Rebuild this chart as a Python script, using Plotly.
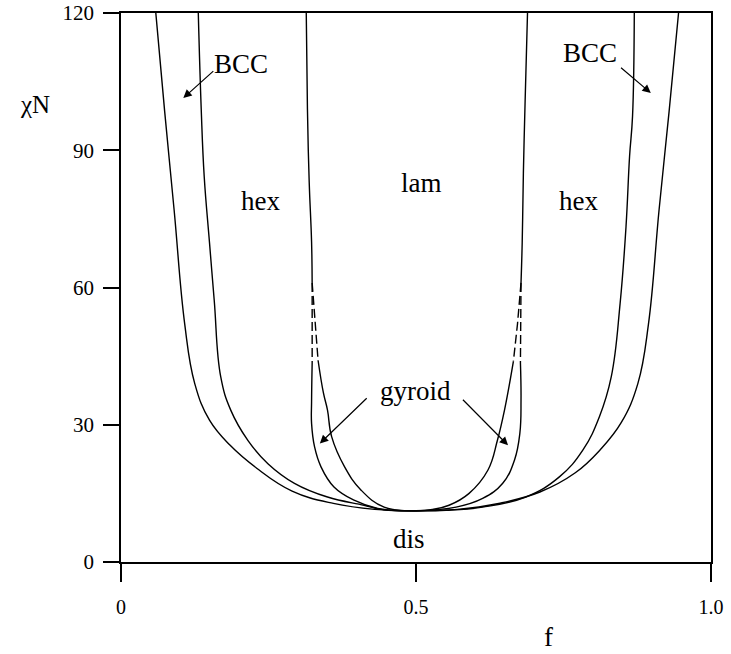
import plotly.graph_objects as go

# ---- phase boundaries, f < 0.5 side ----
# disorder / BCC (order-disorder transition)
dis_bcc_l_f = [0.059, 0.074, 0.090, 0.108, 0.125, 0.150, 0.185, 0.230, 0.290, 0.360, 0.430, 0.500]
dis_bcc_l_chi = [120, 98.5, 77, 52, 39, 31, 25.5, 20.5, 15.5, 12.8, 11.5, 11.2]
# BCC / hex
bcc_hex_l_f = [0.131, 0.136, 0.141, 0.150, 0.158, 0.169, 0.186, 0.215, 0.249, 0.294, 0.350, 0.412, 0.446, 0.500]
bcc_hex_l_chi = [120, 98.9, 84.3, 69.8, 57.2, 40.5, 33.2, 26.6, 21.5, 17.2, 14.2, 12.4, 11.4, 11.2]
# hex / lam (strong segregation part)
hex_lam_l_f = [0.314, 0.316, 0.319, 0.323, 0.324]
hex_lam_l_chi = [120, 99, 83, 70, 61]
# hex / gyroid: extrapolated part and computed part
hex_gyr_l_ext_f = [0.324, 0.324, 0.324]
hex_gyr_l_ext_chi = [61, 52, 43.5]
hex_gyr_l_f = [0.324, 0.323, 0.323, 0.328, 0.339, 0.361, 0.395, 0.435, 0.500]
hex_gyr_l_chi = [43.5, 35, 30.3, 25.2, 20.8, 16.4, 13.5, 11.7, 11.2]
# gyroid / lam: extrapolated part and computed part
gyr_lam_l_ext_f = [0.324, 0.329, 0.334]
gyr_lam_l_ext_chi = [61, 52, 44.1]
gyr_lam_l_f = [0.334, 0.343, 0.350, 0.357, 0.379, 0.407, 0.446, 0.500]
gyr_lam_l_chi = [44.1, 37, 33.2, 27.4, 20.8, 15.7, 12.0, 11.2]

# ---- phase boundaries, f > 0.5 side ----
dis_bcc_r_f = [0.945, 0.929, 0.912, 0.894, 0.876, 0.848, 0.812, 0.770, 0.710, 0.640, 0.570, 0.500]
dis_bcc_r_chi = [120, 98.5, 77, 52, 39, 30.5, 24.5, 19.5, 15.3, 12.8, 11.5, 11.2]
bcc_hex_r_f = [0.870, 0.867, 0.862, 0.856, 0.846, 0.831, 0.811, 0.783, 0.743, 0.686, 0.613, 0.551, 0.500]
bcc_hex_r_chi = [120, 97.4, 88.7, 73.4, 56.6, 40.5, 31.8, 24.5, 18.6, 14.2, 12.0, 11.3, 11.2]
hex_lam_r_f = [0.689, 0.685, 0.682, 0.680, 0.678]
hex_lam_r_chi = [120, 101, 85, 69.8, 61]
hex_gyr_r_ext_f = [0.678, 0.678, 0.677]
hex_gyr_r_ext_chi = [61, 52, 43.5]
hex_gyr_r_f = [0.677, 0.678, 0.676, 0.667, 0.647, 0.613, 0.568, 0.500]
hex_gyr_r_chi = [43.5, 35.4, 28.1, 22.3, 17.2, 13.9, 12.0, 11.2]
gyr_lam_r_ext_f = [0.678, 0.672, 0.665]
gyr_lam_r_ext_chi = [61, 52, 43.8]
gyr_lam_r_f = [0.665, 0.650, 0.638, 0.622, 0.590, 0.556, 0.528, 0.500]
gyr_lam_r_chi = [43.8, 33.2, 26.6, 20.1, 15.0, 12.4, 11.5, 11.2]

solid_lines = [
    (dis_bcc_l_f, dis_bcc_l_chi), (bcc_hex_l_f, bcc_hex_l_chi), (hex_lam_l_f, hex_lam_l_chi),
    (hex_gyr_l_f, hex_gyr_l_chi), (gyr_lam_l_f, gyr_lam_l_chi),
    (dis_bcc_r_f, dis_bcc_r_chi), (bcc_hex_r_f, bcc_hex_r_chi), (hex_lam_r_f, hex_lam_r_chi),
    (hex_gyr_r_f, hex_gyr_r_chi), (gyr_lam_r_f, gyr_lam_r_chi),
]
dashed_lines = [
    (hex_gyr_l_ext_f, hex_gyr_l_ext_chi), (gyr_lam_l_ext_f, gyr_lam_l_ext_chi),
    (hex_gyr_r_ext_f, hex_gyr_r_ext_chi), (gyr_lam_r_ext_f, gyr_lam_r_ext_chi),
]

# region labels: (text, f, chiN)
region_labels = [
    ("BCC", 0.204, 108.8), ("BCC", 0.795, 111.3),
    ("hex", 0.237, 78.9), ("hex", 0.776, 78.9),
    ("lam", 0.510, 82.9), ("gyroid", 0.499, 37.4), ("dis", 0.488, 5.0),
]
# pointer arrows: (tail f, tail chiN, head f, head chiN)
pointers = [
    (0.159, 107.6, 0.1056, 101.4), (0.845, 108.3, 0.898, 102.5),
    (0.419, 36.1, 0.337, 25.9), (0.577, 35.8, 0.656, 25.5),
]

x_ticks = [0, 0.5, 1.0]
x_tick_text = ["0", "0.5", "1.0"]
y_ticks = [0, 30, 60, 90, 120]

SERIF = "Liberation Serif"

fig = go.Figure()
for fx, cy in solid_lines:
    fig.add_trace(go.Scatter(x=fx, y=cy, mode="lines",
                             line=dict(color="black", width=1.4, shape="spline", smoothing=1.2),
                             hoverinfo="skip", showlegend=False))
for fx, cy in dashed_lines:
    fig.add_trace(go.Scatter(x=fx, y=cy, mode="lines",
                             line=dict(color="black", width=1.4, dash="9px,4px"),
                             hoverinfo="skip", showlegend=False))

annotations = []
for txt, fx, cy in region_labels:
    annotations.append(dict(x=fx, y=cy, xref="x", yref="y", text=txt, showarrow=False,
                            font=dict(family=SERIF, size=27, color="black"),
                            xanchor="center", yanchor="middle"))
for tf, tc, hf, hc in pointers:
    annotations.append(dict(x=hf, y=hc, ax=tf, ay=tc, xref="x", yref="y", axref="x", ayref="y",
                            text="", showarrow=True, arrowhead=2, arrowsize=1.4,
                            arrowwidth=1.2, arrowcolor="black", standoff=0, startstandoff=0))
# axis titles
annotations.append(dict(x=-0.145, y=100, xref="paper", yref="y", text="χN", showarrow=False,
                        font=dict(family=SERIF, size=25, color="black"),
                        xanchor="center", yanchor="middle"))
annotations.append(dict(x=0.725, y=-0.137, xref="x", yref="paper", text="f", showarrow=False,
                        font=dict(family=SERIF, size=27, color="black"),
                        xanchor="center", yanchor="middle"))

fig.update_layout(
    width=731, height=654,
    margin=dict(l=121, r=20, t=13, b=92),
    paper_bgcolor="white", plot_bgcolor="white",
    font=dict(family=SERIF, color="black"),
    annotations=annotations,
    xaxis=dict(range=[0, 1], tickvals=x_ticks, ticktext=x_tick_text, automargin=False,
               ticks="outside", ticklen=18, tickwidth=1.5, tickcolor="black",
               showline=True, linewidth=1.5, linecolor="black", mirror=True,
               showgrid=False, zeroline=False, ticklabelstandoff=8,
               tickfont=dict(family=SERIF, size=20, color="black")),
    yaxis=dict(range=[0, 120], tickvals=y_ticks, automargin=False,
               ticks="outside", ticklen=16, tickwidth=1.5, tickcolor="black",
               showline=True, linewidth=1.5, linecolor="black", mirror=True,
               showgrid=False, zeroline=False, ticklabelstandoff=5,
               tickfont=dict(family=SERIF, size=21, color="black")),
)

fig.write_html("out.html")
